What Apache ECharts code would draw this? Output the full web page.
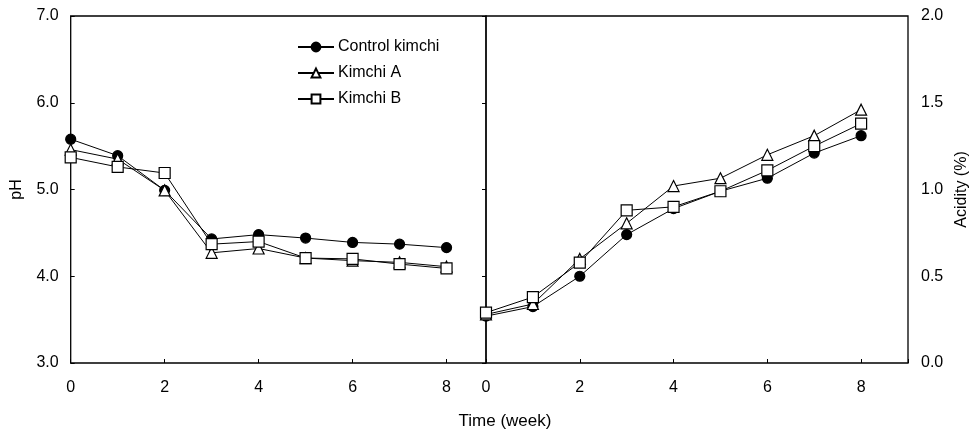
<!DOCTYPE html>
<html>
<head>
<meta charset="utf-8">
<script src="https://cdn.jsdelivr.net/npm/echarts@6/dist/echarts.min.js"></script>
<style>
  html, body { margin: 0; padding: 0; background: #fff; }
  #chart { width: 971px; height: 435px; }
</style>
</head>
<body>
<div id="chart"></div>
<script>
// weeks of fermentation
var weeks = [0, 1, 2, 3, 4, 5, 6, 7, 8];
var seriesNames = ['Control kimchi', 'Kimchi A', 'Kimchi B'];

// pH (left panel)
var phControl = [5.58, 5.39, 4.99, 4.43, 4.48, 4.44, 4.39, 4.37, 4.33];
var phA = [5.46, 5.35, 4.99, 4.27, 4.32, 4.21, 4.18, 4.16, 4.11];
var phB = [5.37, 5.26, 5.19, 4.37, 4.40, 4.21, 4.20, 4.14, 4.09];

// acidity % (right panel)
var acidControl = [0.27, 0.325, 0.50, 0.74, 0.89, 0.99, 1.065, 1.21, 1.31];
var acidA = [0.28, 0.34, 0.60, 0.805, 1.02, 1.065, 1.20, 1.31, 1.46];
var acidB = [0.29, 0.38, 0.578, 0.88, 0.90, 0.99, 1.11, 1.25, 1.38];

var phTicks = [3, 4, 5, 6, 7];
var acidTicks = [0, 0.5, 1, 1.5, 2];
var timeTicks = [0, 2, 4, 6, 8];

var FONT = 'Liberation Sans, Arial, sans-serif';

function pairs(vals) {
  return weeks.map(function (w, i) { return [w, vals[i]]; });
}

var symbols = ['circle', 'triangle', 'rect'];
var fills = ['#000', '#fff', '#fff'];
var sizes = [10, 11, 11];

function makeSeries(name, idx, vals, gridIdx) {
  return {
    name: name,
    type: 'line',
    xAxisIndex: gridIdx,
    yAxisIndex: gridIdx,
    data: pairs(vals),
    symbol: symbols[idx],
    symbolSize: sizes[idx],
    showAllSymbol: true,
    z: 2 + idx,
    lineStyle: { color: '#000', width: 1 },
    itemStyle: { color: fills[idx], borderColor: '#000', borderWidth: 1.2, opacity: 1 },
    emphasis: { disabled: true },
    animation: false
  };
}

var timeLabel = {
  fontFamily: FONT, fontSize: 16, color: '#000', margin: 17,
  formatter: function (v) { return timeTicks.indexOf(v) >= 0 ? String(v) : ''; }
};

var chart = echarts.init(document.getElementById('chart'));
chart.setOption({
  animation: false,
  backgroundColor: '#fff',
  textStyle: { fontFamily: FONT },
  grid: [
    { left: 70.7, right: 485, top: 16, bottom: 72, show: true, borderColor: '#000', borderWidth: 1.3 },
    { left: 486, right: 63, top: 16, bottom: 72, show: true, borderColor: '#000', borderWidth: 1.3 }
  ],
  legend: {
    orient: 'vertical',
    left: 292,
    top: 34,
    itemWidth: 36,
    itemHeight: 11,
    itemGap: 10,
    data: seriesNames,
    textStyle: { fontFamily: FONT, fontSize: 16, color: '#000', padding: [0, 0, 0, -1] },
    selectedMode: false
  },
  xAxis: [
    {
      type: 'value', gridIndex: 0, min: 0, max: 8.84, interval: 2,
      axisLine: { show: false },
      axisTick: { show: true, inside: true, length: 4, lineStyle: { color: '#000' } },
      axisLabel: timeLabel,
      splitLine: { show: false }
    },
    {
      type: 'value', gridIndex: 1, min: 0, max: 9, interval: 2,
      axisLine: { show: false },
      axisTick: { show: true, inside: true, length: 4, lineStyle: { color: '#000' } },
      axisLabel: timeLabel,
      splitLine: { show: false }
    }
  ],
  yAxis: [
    {
      type: 'value', gridIndex: 0, min: phTicks[0], max: phTicks[phTicks.length - 1], interval: 1,
      name: 'pH', nameLocation: 'middle', nameRotate: 90, nameGap: 46,
      nameTextStyle: { fontFamily: FONT, fontSize: 16, color: '#000' },
      axisLine: { show: false },
      axisTick: { show: true, inside: true, length: 4, lineStyle: { color: '#000' } },
      axisLabel: { fontFamily: FONT, fontSize: 16, color: '#000', margin: 12,
        formatter: function (v) { return v.toFixed(1); } },
      splitLine: { show: false }
    },
    {
      type: 'value', gridIndex: 1, position: 'right', min: acidTicks[0], max: acidTicks[acidTicks.length - 1], interval: 0.5,
      name: 'Acidity (%)', nameLocation: 'middle', nameRotate: 90, nameGap: 46,
      nameTextStyle: { fontFamily: FONT, fontSize: 16, color: '#000' },
      axisLine: { show: false },
      axisTick: { show: true, inside: true, length: 4, lineStyle: { color: '#000' } },
      axisLabel: { fontFamily: FONT, fontSize: 16, color: '#000', margin: 13,
        formatter: function (v) { return v.toFixed(1); } },
      splitLine: { show: false }
    }
  ],
  graphic: [
    {
      type: 'text', x: 505, y: 421,
      style: { text: 'Time (week)', fontFamily: FONT, fontSize: 17, fill: '#000',
        align: 'center', verticalAlign: 'middle' }
    }
  ],
  series: [
    makeSeries(seriesNames[0], 0, phControl, 0),
    makeSeries(seriesNames[1], 1, phA, 0),
    makeSeries(seriesNames[2], 2, phB, 0),
    makeSeries(seriesNames[0], 0, acidControl, 1),
    makeSeries(seriesNames[1], 1, acidA, 1),
    makeSeries(seriesNames[2], 2, acidB, 1)
  ]
});
</script>
</body>
</html>
